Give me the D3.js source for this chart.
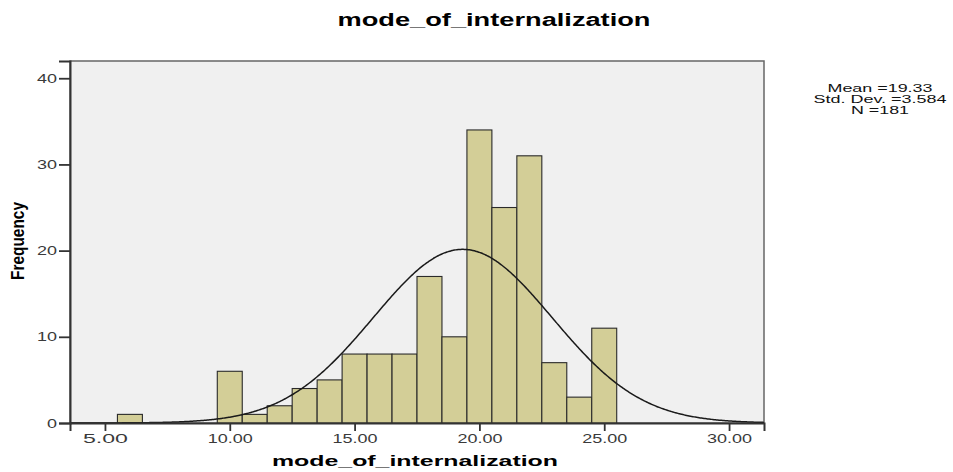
<!DOCTYPE html>
<html>
<head>
<meta charset="utf-8">
<script src="https://cdn.jsdelivr.net/npm/d3@7"></script>
<style>
  body { margin: 0; background: #fff; }
  svg text { font-family: "Liberation Sans", Arial, sans-serif; }
</style>
</head>
<body>
<div id="chart"></div>
<script>
  'use strict';

  // histogram bins (centre of each 1-unit bin) and counts
  var binCentres = [6, 10, 11, 12, 13, 14, 15, 16, 17, 18, 19, 20, 21, 22, 23, 24, 25];
  var binCounts  = [1, 6, 1, 2, 4, 5, 8, 8, 8, 17, 10, 34, 25, 31, 7, 3, 11];
  var xTicks = [5, 10, 15, 20, 25, 30];
  var yTicks = [0, 10, 20, 30, 40];
  var statLines = ['Mean =19.33', 'Std. Dev. =3.584', 'N =181'];
  var MEAN = 19.33, SD = 3.584, N = 181, BIN_WIDTH = 1;

  var WIDTH = 953, HEIGHT = 472,
      plot = { left: 70, right: 764, top: 61, bottom: 423 };

  var svg = d3.select('#chart').append('svg')
      .attr('width', WIDTH)
      .attr('height', HEIGHT);

  var x = d3.scaleLinear().domain([3.6, 31.4]).range([plot.left, plot.right]);
  var y = d3.scaleLinear().domain([0, 42]).range([plot.bottom, plot.top]);

  // plot background + frame
  svg.append('rect')
      .attr('x', plot.left).attr('y', plot.top)
      .attr('width', plot.right - plot.left)
      .attr('height', plot.bottom - plot.top)
      .attr('fill', '#f0f0f0')
      .attr('stroke', '#666')
      .attr('stroke-width', 1.5);

  // bars
  svg.append('g').selectAll('rect')
      .data(binCentres)
      .enter().append('rect')
      .attr('x', function (d) { return x(d - BIN_WIDTH / 2); })
      .attr('width', function (d) { return x(d + BIN_WIDTH / 2) - x(d - BIN_WIDTH / 2); })
      .attr('y', function (d, i) { return y(binCounts[i]); })
      .attr('height', function (d, i) { return y(0) - y(binCounts[i]); })
      .attr('fill', '#d3ce97')
      .attr('stroke', '#2a2a2a')
      .attr('stroke-width', 1.1);

  // normal curve scaled to counts
  var curveX = d3.range(x.domain()[0], x.domain()[1] + 0.01, 0.05);
  function normal(v) {
    return N * BIN_WIDTH * Math.exp(-0.5 * Math.pow((v - MEAN) / SD, 2)) / (SD * Math.sqrt(2 * Math.PI));
  }
  svg.append('path')
      .datum(curveX)
      .attr('fill', 'none')
      .attr('stroke', '#1a1a1a')
      .attr('stroke-width', 1.5)
      .attr('d', d3.line()
          .x(function (d) { return x(d); })
          .y(function (d) { return y(normal(d)); })
          .curve(d3.curveBasis));

  // axes
  var yAxis = svg.append('g')
      .attr('transform', 'translate(' + plot.left + ',0)')
      .call(d3.axisLeft(y).tickValues(yTicks).tickSize(11).tickPadding(2).tickFormat(d3.format('d')));
  var xAxis = svg.append('g')
      .attr('transform', 'translate(0,' + plot.bottom + ')')
      .call(d3.axisBottom(x).tickValues(xTicks).tickSize(8).tickPadding(3).tickFormat(d3.format('.2f')));

  [xAxis, yAxis].forEach(function (ax) {
    ax.select('.domain').attr('stroke', '#333').attr('stroke-width', 2);
    ax.selectAll('.tick line').attr('stroke', '#333').attr('stroke-width', 1.8);
    ax.selectAll('.tick text')
        .attr('fill', '#3a3a3a')
        .style('font-size', '13px')
        .style('font-family', '"Liberation Sans", Arial, sans-serif');
  });
  xAxis.selectAll('.tick text').attr('textLength', 45).attr('lengthAdjust', 'spacingAndGlyphs');
  yAxis.selectAll('.tick text').attr('textLength', function (d) { return d === 0 ? 10 : 20; })
      .attr('lengthAdjust', 'spacingAndGlyphs');

  // titles
  svg.append('text')
      .attr('x', 494).attr('y', 26)
      .attr('text-anchor', 'middle')
      .attr('textLength', 313).attr('lengthAdjust', 'spacingAndGlyphs')
      .style('font-size', '18px').style('font-weight', 'bold')
      .text('mode_of_internalization');

  svg.append('text')
      .attr('x', 415).attr('y', 466)
      .attr('text-anchor', 'middle')
      .attr('textLength', 286).attr('lengthAdjust', 'spacingAndGlyphs')
      .style('font-size', '15px').style('font-weight', 'bold')
      .text('mode_of_internalization');

  svg.append('text')
      .attr('transform', 'translate(24,241) rotate(-90)')
      .attr('text-anchor', 'middle')
      .attr('textLength', 78).attr('lengthAdjust', 'spacingAndGlyphs')
      .style('font-size', '19px').style('font-weight', 'bold')
      .text('Frequency');

  // stats box
  svg.append('g').selectAll('text')
      .data(statLines)
      .enter().append('text')
      .attr('x', 880)
      .attr('y', function (d, i) { return 92 + i * 11; })
      .attr('text-anchor', 'middle')
      .attr('textLength', function (d, i) { return [105, 133, 58][i]; })
      .attr('lengthAdjust', 'spacingAndGlyphs')
      .style('font-size', '11.5px')
      .attr('fill', '#111')
      .text(function (d) { return d; });
</script>
</body>
</html>
